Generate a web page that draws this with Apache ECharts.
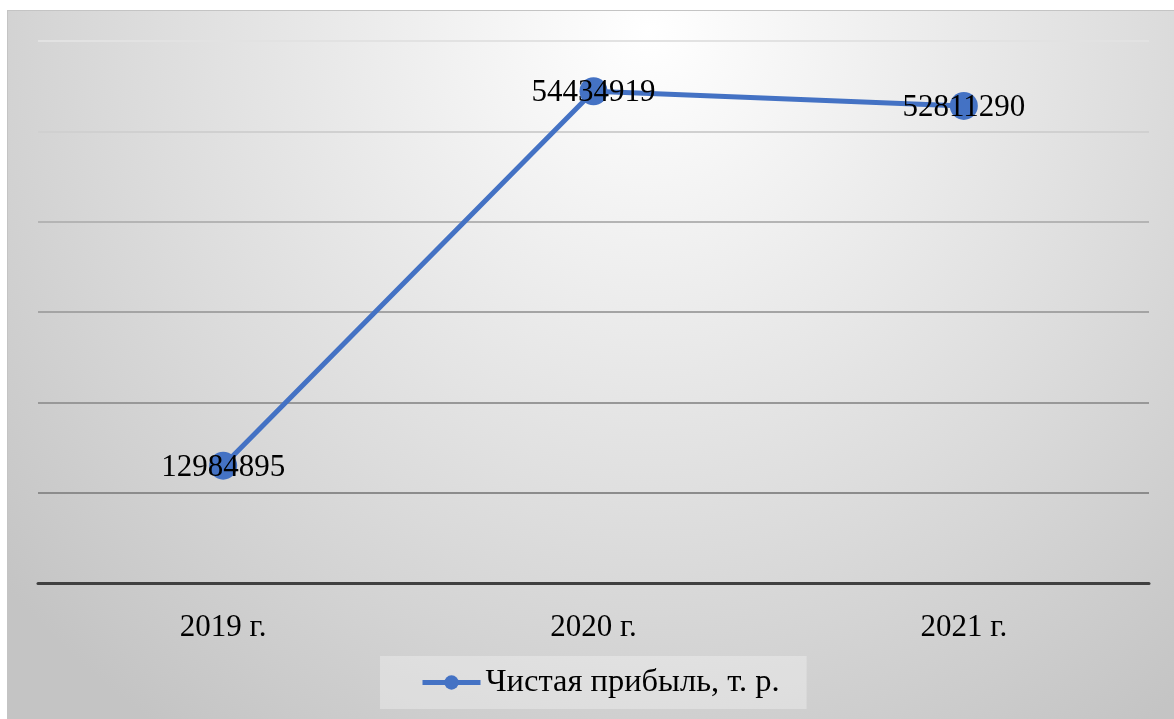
<!DOCTYPE html>
<html lang="ru">
  <head>
    <meta charset="UTF-8" />
    <title>Чистая прибыль</title>
    <style>
      body {
        margin: 0;
        background: #ffffff;
      }
      #chart {
        position: absolute;
        left: 7px;
        top: 10px;
        width: 1166px;
        height: 708px;
        border-left: 1px solid #c4c4c4;
        border-top: 1px solid #c4c4c4;
      }
    </style>
    <script src="https://cdn.jsdelivr.net/npm/echarts@6/dist/echarts.min.js"></script>
  </head>
  <body>
    <div id="chart"></div>

    <script>
      const years = ["2019 г.", "2020 г.", "2021 г."];
      const profit = [12984895, 54434919, 52811290];
      const seriesName = "Чистая прибыль, т. р.";
      // gridline shades, bottom to top
      const gridColors = ["#404040", "#8c8c8c", "#989898", "#a4a4a4", "#b4b4b4", "#d0d0d0", "#e2e2e2"];

      const font = "'Liberation Serif', 'Times New Roman', serif";
      const myChart = echarts.init(document.getElementById("chart"));

      myChart.setOption({
        backgroundColor: {
          type: "radial",
          x: 0.55,
          y: 0.03,
          r: 1.2,
          colorStops: [
            { offset: 0, color: "#ffffff" },
            { offset: 0.6, color: "#dcdcdc" },
            { offset: 1, color: "#c4c4c4" },
          ],
        },
        animation: false,
        grid: { left: 30, right: 25, top: 30, bottom: 136 },
        legend: {
          bottom: 10,
          left: 372,
          data: [seriesName],
          backgroundColor: "rgba(255,255,255,0.3)",
          padding: [10, 27, 10, 40],
          itemWidth: 58,
          itemHeight: 18,
          itemGap: 0,
          lineStyle: { width: 5, color: "#4472c4" },
          itemStyle: { color: "#4472c4" },
          textStyle: { fontFamily: font, fontSize: 32.5, color: "#000" },
        },
        xAxis: {
          type: "category",
          data: years,
          boundaryGap: true,
          axisLine: { lineStyle: { color: "#404040", width: 3 } },
          axisTick: { show: false },
          axisLabel: { fontFamily: font, fontSize: 31, color: "#000", margin: 29 },
        },
        yAxis: {
          type: "value",
          min: 0,
          max: 60000000,
          interval: 10000000,
          axisLabel: { show: false },
          axisLine: { show: false },
          axisTick: { show: false },
          splitLine: { lineStyle: { color: gridColors, width: 2 } },
        },
        series: [
          {
            name: seriesName,
            type: "line",
            data: profit,
            symbol: "circle",
            symbolSize: 28,
            lineStyle: { color: "#4472c4", width: 5 },
            itemStyle: { color: "#4472c4" },
            label: {
              show: true,
              position: "inside",
              offset: [0, 2],
              fontFamily: font,
              fontSize: 31,
              color: "#000",
            },
          },
        ],
      });
    </script>
  </body>
</html>
